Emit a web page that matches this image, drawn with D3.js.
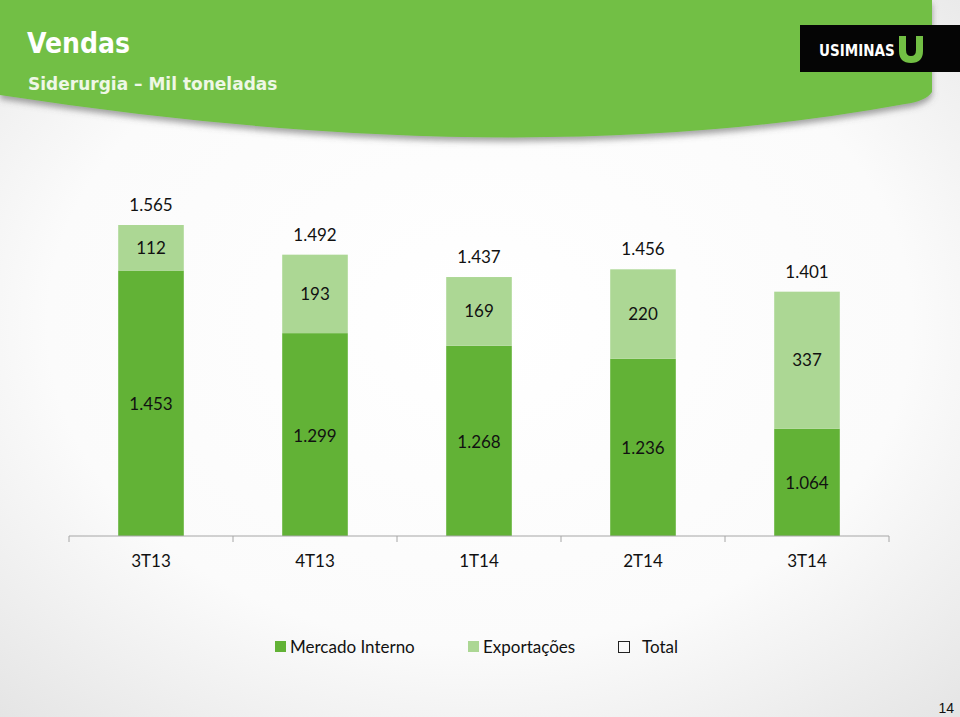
<!DOCTYPE html>
<html>
<head>
<meta charset="utf-8">
<script src="https://cdn.jsdelivr.net/npm/d3@7"></script>
<style>
body { margin: 0; }
svg { display: block; }
</style>
</head>
<body>
<script>
var width = 960,
	height = 717;

// data
var quarters = ["3T13", "4T13", "1T14", "2T14", "3T14"];
var mercadoInterno = [1453, 1299, 1268, 1236, 1064];
var exportacoes = [112, 193, 169, 220, 337];
var totals = [1565, 1492, 1437, 1456, 1401];
var seriesNames = ["Mercado Interno", "Exportações", "Total"];

var colInt = "#62b236",
	colExp = "#acd794";

var svg = d3.select("body").append("svg")
	.attr("width", width)
	.attr("height", height);

var defs = svg.append("defs");
var bg = defs.append("radialGradient").attr("id", "bg")
	.attr("cx", "50%").attr("cy", "45%").attr("r", "75%");
bg.append("stop").attr("offset", "0%").attr("stop-color", "#ffffff");
bg.append("stop").attr("offset", "60%").attr("stop-color", "#fbfbfb");
bg.append("stop").attr("offset", "100%").attr("stop-color", "#e4e4e4");

var sh = defs.append("filter").attr("id", "shadow")
	.attr("x", "-5%").attr("y", "-20%").attr("width", "110%").attr("height", "150%");
sh.append("feDropShadow").attr("dx", 0).attr("dy", 4).attr("stdDeviation", 3)
	.attr("flood-color", "#555").attr("flood-opacity", 0.55);

svg.append("rect").attr("width", width).attr("height", height).attr("fill", "url(#bg)");

// header band
svg.append("path")
	.attr("d", "M0,0 L932,0 L932,92 Q926,101 905,104 Q520,175 0,95 Z")
	.attr("fill", "#72bf44")
	.attr("filter", "url(#shadow)");

svg.append("text").attr("x", 27).attr("y", 53)
	.attr("font-family", "DejaVu Sans Condensed, DejaVu Sans")
	.attr("font-weight", "bold").attr("font-size", 28)
	.attr("fill", "#ffffff").text("Vendas");
svg.append("text").attr("x", 28).attr("y", 90)
	.attr("font-family", "DejaVu Sans")
	.attr("font-weight", "bold").attr("font-size", 17)
	.attr("fill", "#eef7e6").text("Siderurgia – Mil toneladas");

// logo
svg.append("rect").attr("x", 800).attr("y", 25).attr("width", 160).attr("height", 47).attr("fill", "#050505");
svg.append("text").attr("x", 819).attr("y", 56)
	.attr("font-family", "DejaVu Sans Condensed, DejaVu Sans")
	.attr("font-weight", "bold").attr("font-size", 15)
	.attr("fill", "#ffffff").text("USIMINAS");
svg.append("path")
	.attr("d", "M899,36 L906,36 L906,50 Q906,56 911,56 Q916,56 916,50 L916,36 L923,36 L923,51 Q923,63 911,63 Q899,63 899,51 Z")
	.attr("fill", "#72bf44");

// scales
var x = d3.scaleBand().domain(quarters).range([69, 889]);
var y = d3.scaleLinear().domain([800, 1565]).range([536, 225]);
var barW = x.bandwidth() * 0.4;

var g = svg.append("g");

var bars = g.selectAll("g.q").data(quarters).enter().append("g").attr("class", "q");

bars.append("rect")
	.attr("x", function(d){ return x(d) + (x.bandwidth() - barW) / 2 })
	.attr("y", function(d, i){ return y(mercadoInterno[i]) })
	.attr("width", barW)
	.attr("height", function(d, i){ return y(800) - y(mercadoInterno[i]) })
	.attr("fill", colInt);

bars.append("rect")
	.attr("x", function(d){ return x(d) + (x.bandwidth() - barW) / 2 })
	.attr("y", function(d, i){ return y(totals[i]) })
	.attr("width", barW)
	.attr("height", function(d, i){ return y(mercadoInterno[i]) - y(totals[i]) })
	.attr("fill", colExp);

var fmt = function(v){ return d3.format(",")(v).replace(/,/g, ".") };
var lblFont = "Lato, Open Sans, sans-serif";

function label(sel, yf, tf) {
	sel.append("text")
		.attr("x", function(d){ return x(d) + x.bandwidth() / 2 })
		.attr("y", yf)
		.attr("dy", "0.35em")
		.attr("text-anchor", "middle")
		.attr("font-family", lblFont).attr("font-size", 17)
		.attr("fill", "#111")
		.text(tf);
}
label(bars, function(d, i){ return (y(mercadoInterno[i]) + y(800)) / 2 + 1 }, function(d, i){ return fmt(mercadoInterno[i]) });
label(bars, function(d, i){ return (y(totals[i]) + y(mercadoInterno[i])) / 2 }, function(d, i){ return fmt(exportacoes[i]) });
label(bars, function(d, i){ return y(totals[i]) - 20 }, function(d, i){ return fmt(totals[i]) });

// axis
var axis = g.append("g").attr("transform", "translate(0,536)")
	.call(d3.axisBottom(x).tickSize(0).tickPadding(19));
axis.select(".domain").attr("stroke", "#a6a6a6").attr("d", "M69,0H889");
axis.selectAll("text").attr("font-family", lblFont).attr("font-size", 17).attr("fill", "#111");
axis.selectAll("line.sep").data(d3.range(quarters.length + 1)).enter().append("line")
	.attr("class", "sep")
	.attr("x1", function(i){ return 69 + i * x.step() })
	.attr("x2", function(i){ return 69 + i * x.step() })
	.attr("y1", 0).attr("y2", 6)
	.attr("stroke", "#a6a6a6");

// legend
var legX = [275, 468, 618];
var leg = svg.append("g").selectAll("g").data(seriesNames).enter().append("g")
	.attr("transform", function(d, i){ return "translate(" + legX[i] + ",641)" });
leg.append("rect")
	.attr("x", function(d, i){ return i == 2 ? 0.5 : 0 })
	.attr("y", function(d, i){ return i == 2 ? 0.5 : 0 })
	.attr("width", 11).attr("height", 11)
	.attr("fill", function(d, i){ return i == 0 ? colInt : i == 1 ? colExp : "none" })
	.attr("stroke", function(d, i){ return i == 2 ? "#222" : "none" });
leg.append("text")
	.attr("x", function(d, i){ return i == 2 ? 24 : 15 })
	.attr("y", 6).attr("dy", "0.35em")
	.attr("font-family", lblFont).attr("font-size", 17).attr("fill", "#111")
	.text(function(d){ return d });

svg.append("text").attr("x", 954).attr("y", 713).attr("text-anchor", "end")
	.attr("font-family", "Liberation Sans, Arial").attr("font-size", 14)
	.attr("fill", "#111").text("14");
</script>
</body>
</html>
